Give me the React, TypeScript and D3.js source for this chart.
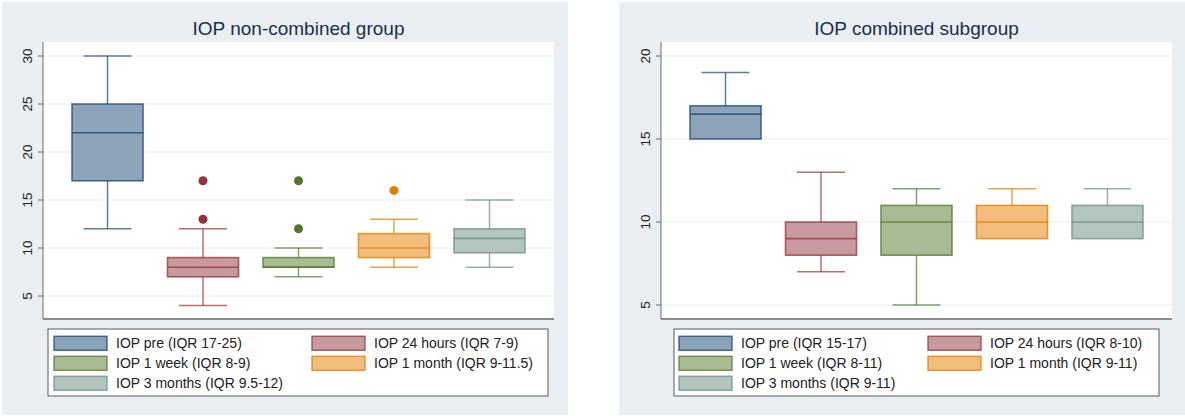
import * as d3 from "d3";
import { useEffect, useRef } from "react";

// groups / colours (Stata s2color: navy, maroon, forest_green, dkorange, teal)
const groups = ["IOP pre", "IOP 24 hours", "IOP 1 week", "IOP 1 month", "IOP 3 months"];
const lineColors = ["#1a476f", "#90353b", "#55752f", "#e37e00", "#6e8e84"];
const fillColors = ["#8ca3b9", "#c89a9f", "#a9bb93", "#f3bd7c", "#b2c5bf"];

// IOP non-combined group
const nonCombinedMin = [12, 4, 7, 8, 8];
const nonCombinedQ1 = [17, 7, 8, 9, 9.5];
const nonCombinedMedian = [22, 8, 8, 10, 11];
const nonCombinedQ3 = [25, 9, 9, 11.5, 12];
const nonCombinedMax = [30, 12, 10, 13, 15];
const nonCombinedOutliers = [[], [13, 17], [12, 17], [16], []];
const nonCombinedTicks = [5, 10, 15, 20, 25, 30];
const nonCombinedLegend = [
  "IOP pre (IQR 17-25)",
  "IOP 24 hours (IQR 7-9)",
  "IOP 1 week (IQR 8-9)",
  "IOP 1 month (IQR 9-11.5)",
  "IOP 3 months (IQR 9.5-12)",
];

// IOP combined subgroup
const combinedMin = [15, 7, 5, 9, 9];
const combinedQ1 = [15, 8, 8, 9, 9];
const combinedMedian = [16.5, 9, 10, 10, 10];
const combinedQ3 = [17, 10, 11, 11, 11];
const combinedMax = [19, 13, 12, 12, 12];
const combinedOutliers = [[], [], [], [], []];
const combinedTicks = [5, 10, 15, 20];
const combinedLegend = [
  "IOP pre (IQR 15-17)",
  "IOP 24 hours (IQR 8-10)",
  "IOP 1 week (IQR 8-11)",
  "IOP 1 month (IQR 9-11)",
  "IOP 3 months (IQR 9-11)",
];

const FONT = "'Liberation Sans', Arial, Helvetica, sans-serif";

const drawPanel = (svg, p) => {
  const g = svg.append("g");

  // graph region
  g.append("rect")
    .attr("x", p.bg[0]).attr("y", p.bg[1])
    .attr("width", p.bg[2] - p.bg[0]).attr("height", p.bg[3] - p.bg[1])
    .attr("fill", "#e9eff2");

  // plot region
  g.append("rect")
    .attr("x", p.plot[0]).attr("y", p.plot[1])
    .attr("width", p.plot[2] - p.plot[0]).attr("height", p.plot[3] - p.plot[1])
    .attr("fill", "#ffffff");

  const y = d3.scaleLinear().domain(p.yDomain).range(p.yRange);
  const x = d3.scaleBand().domain(groups).range(p.xRange).paddingInner(0.256).paddingOuter(0);
  const bw = x.bandwidth();
  const capW = bw * 0.675;

  // grid lines
  g.selectAll(".grid")
    .data(p.ticks)
    .enter()
    .append("line")
    .attr("x1", p.plot[0]).attr("x2", p.plot[2])
    .attr("y1", (d) => y(d)).attr("y2", (d) => y(d))
    .attr("stroke", "#e9eff2")
    .attr("stroke-width", 1.2);

  // title
  g.append("text")
    .attr("x", (p.plot[0] + p.plot[2]) / 2)
    .attr("y", 35)
    .attr("text-anchor", "middle")
    .attr("font-family", FONT)
    .attr("font-size", "19px")
    .attr("fill", "#1c2e50")
    .text(p.title);

  // boxes
  groups.forEach((grp, i) => {
    const cx = x(grp) + bw / 2;
    const lc = lineColors[i];
    const bg = g.append("g");

    // whiskers
    if (p.max[i] > p.q3[i]) {
      bg.append("line")
        .attr("x1", cx).attr("x2", cx)
        .attr("y1", y(p.q3[i])).attr("y2", y(p.max[i]))
        .attr("stroke", lc).attr("stroke-opacity", 0.7).attr("stroke-width", 1.5);
      bg.append("line")
        .attr("x1", cx - capW / 2).attr("x2", cx + capW / 2)
        .attr("y1", y(p.max[i])).attr("y2", y(p.max[i]))
        .attr("stroke", lc).attr("stroke-opacity", 0.7).attr("stroke-width", 1.5);
    }
    if (p.min[i] < p.q1[i]) {
      bg.append("line")
        .attr("x1", cx).attr("x2", cx)
        .attr("y1", y(p.q1[i])).attr("y2", y(p.min[i]))
        .attr("stroke", lc).attr("stroke-opacity", 0.7).attr("stroke-width", 1.5);
      bg.append("line")
        .attr("x1", cx - capW / 2).attr("x2", cx + capW / 2)
        .attr("y1", y(p.min[i])).attr("y2", y(p.min[i]))
        .attr("stroke", lc).attr("stroke-opacity", 0.7).attr("stroke-width", 1.5);
    }

    // box
    bg.append("rect")
      .attr("x", x(grp)).attr("width", bw)
      .attr("y", y(p.q3[i])).attr("height", y(p.q1[i]) - y(p.q3[i]))
      .attr("fill", fillColors[i])
      .attr("stroke", lc).attr("stroke-opacity", 0.75).attr("stroke-width", 1.6);

    // median
    bg.append("line")
      .attr("x1", x(grp)).attr("x2", x(grp) + bw)
      .attr("y1", y(p.median[i])).attr("y2", y(p.median[i]))
      .attr("stroke", lc).attr("stroke-opacity", 0.75).attr("stroke-width", 1.6);

    // outside values
    bg.selectAll(".outlier")
      .data(p.outliers[i])
      .enter()
      .append("circle")
      .attr("cx", cx)
      .attr("cy", (d) => y(d))
      .attr("r", 4.5)
      .attr("fill", lc);
  });

  // y axis
  g.append("line")
    .attr("x1", p.plot[0]).attr("x2", p.plot[0])
    .attr("y1", p.plot[1]).attr("y2", p.plot[3])
    .attr("stroke", "#6a6a6a").attr("stroke-width", 1);
  g.selectAll(".ytick")
    .data(p.ticks)
    .enter()
    .append("line")
    .attr("x1", p.plot[0] - 5).attr("x2", p.plot[0])
    .attr("y1", (d) => y(d)).attr("y2", (d) => y(d))
    .attr("stroke", "#6a6a6a").attr("stroke-width", 1);
  g.selectAll(".ylabel")
    .data(p.ticks)
    .enter()
    .append("text")
    .attr("transform", (d) => `translate(${p.plot[0] - 11}, ${y(d)}) rotate(-90)`)
    .attr("text-anchor", "middle")
    .attr("font-family", FONT)
    .attr("font-size", "13.5px")
    .attr("fill", "#222")
    .text((d) => d);

  // x axis line
  g.append("line")
    .attr("x1", p.plot[0]).attr("x2", p.plot[2])
    .attr("y1", p.plot[3]).attr("y2", p.plot[3])
    .attr("stroke", "#6a6a6a").attr("stroke-width", 1.6);

  // legend
  const lb = p.legend;
  g.append("rect")
    .attr("x", lb[0]).attr("y", lb[1])
    .attr("width", lb[2] - lb[0]).attr("height", lb[3] - lb[1])
    .attr("fill", "#ffffff")
    .attr("stroke", "#5a5a5a").attr("stroke-width", 1);

  p.legendLabels.forEach((label, i) => {
    const col = i % 2;
    const row = Math.floor(i / 2);
    const sx = lb[0] + p.swatchInset + col * p.colStep;
    const cy = lb[1] + 14.3 + row * 20;
    g.append("rect")
      .attr("x", sx).attr("y", cy - 7)
      .attr("width", 53).attr("height", 14)
      .attr("fill", fillColors[i])
      .attr("stroke", lineColors[i]).attr("stroke-opacity", 0.75).attr("stroke-width", 1.5);
    g.append("text")
      .attr("x", sx + 62).attr("y", cy + 5)
      .attr("font-family", FONT)
      .attr("font-size", "14px")
      .attr("fill", "#222")
      .text(label);
  });
};

const App = () => {
  const svgRef = useRef(null);

  useEffect(() => {
    const svg = d3.select(svgRef.current);
    svg.selectAll("*").remove();

    drawPanel(svg, {
      title: "IOP non-combined group",
      bg: [2, 2, 568, 415],
      plot: [43, 42, 554, 319],
      yDomain: [5, 30],
      yRange: [296, 56],
      xRange: [72, 525],
      ticks: nonCombinedTicks,
      min: nonCombinedMin,
      q1: nonCombinedQ1,
      median: nonCombinedMedian,
      q3: nonCombinedQ3,
      max: nonCombinedMax,
      outliers: nonCombinedOutliers,
      legend: [48, 329, 548, 396],
      swatchInset: 6,
      colStep: 258,
      legendLabels: nonCombinedLegend,
    });

    drawPanel(svg, {
      title: "IOP combined subgroup",
      bg: [619, 2, 1185, 415],
      plot: [661, 42, 1172, 319],
      yDomain: [5, 20],
      yRange: [305, 56],
      xRange: [690, 1143],
      ticks: combinedTicks,
      min: combinedMin,
      q1: combinedQ1,
      median: combinedMedian,
      q3: combinedQ3,
      max: combinedMax,
      outliers: combinedOutliers,
      legend: [674, 329, 1159, 396],
      swatchInset: 5,
      colStep: 249,
      legendLabels: combinedLegend,
    });
  }, []);

  return (
    <svg
      ref={svgRef}
      width={1185}
      height={416}
      style={{ position: "absolute", left: 0, top: 0, display: "block", background: "#ffffff" }}
    />
  );
};

export default App;
